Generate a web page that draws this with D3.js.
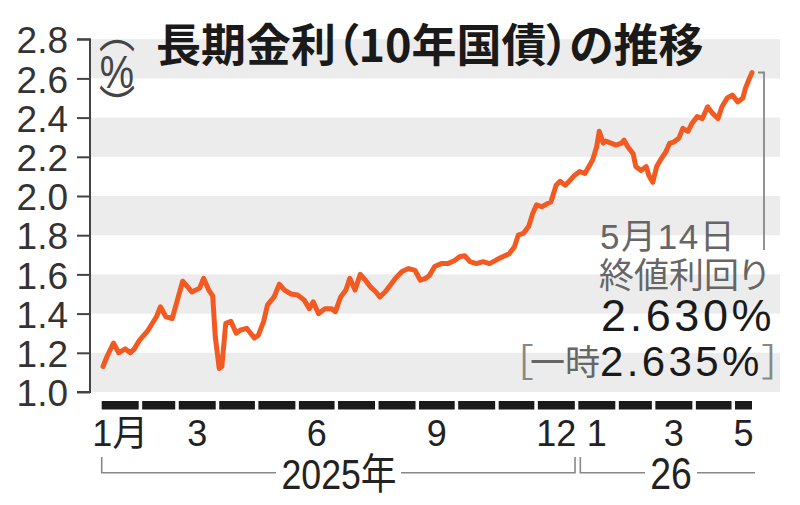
<!DOCTYPE html>
<html><head><meta charset="utf-8">
<script src="https://cdn.jsdelivr.net/npm/d3@7"></script>
<style>
body{margin:0;background:#fff}
svg{display:block}
text{font-family:"Liberation Sans","Noto Sans CJK JP",sans-serif}
.cjk{font-family:"Noto Sans CJK JP",sans-serif;font-feature-settings:"palt"}
</style>
</head><body>
<svg id="c" width="800" height="505"></svg>
<script>
// ---- data ----
const dates = ["2025-01-02","2025-01-05","2025-01-10","2025-01-14","2025-01-19","2025-01-23","2025-01-26","2025-01-30",
"2025-02-05","2025-02-12","2025-02-15","2025-02-19","2025-02-24","2025-02-28",
"2025-03-04","2025-03-08","2025-03-11","2025-03-17","2025-03-20","2025-03-24","2025-03-27","2025-03-29",
"2025-04-01","2025-04-03","2025-04-06","2025-04-10","2025-04-14","2025-04-17","2025-04-22","2025-04-28",
"2025-05-01","2025-05-05","2025-05-08","2025-05-13","2025-05-17","2025-05-21","2025-05-26","2025-05-31",
"2025-06-05","2025-06-09","2025-06-12","2025-06-16","2025-06-21","2025-06-26","2025-06-29",
"2025-07-03","2025-07-07","2025-07-10","2025-07-14","2025-07-18","2025-07-22","2025-07-26","2025-07-30",
"2025-08-02","2025-08-06","2025-08-10","2025-08-14","2025-08-19","2025-08-24","2025-08-29",
"2025-09-02","2025-09-06","2025-09-09","2025-09-13","2025-09-18","2025-09-23","2025-09-28",
"2025-10-02","2025-10-06","2025-10-10","2025-10-15","2025-10-20","2025-10-25","2025-10-30",
"2025-11-04","2025-11-09","2025-11-13","2025-11-16","2025-11-20","2025-11-24","2025-11-27","2025-11-30",
"2025-12-04","2025-12-08","2025-12-11","2025-12-15","2025-12-18","2025-12-22","2025-12-25","2025-12-29",
"2026-01-02","2026-01-06","2026-01-10","2026-01-12","2026-01-15","2026-01-17","2026-01-20","2026-01-22","2026-01-26","2026-01-30",
"2026-02-03","2026-02-05","2026-02-08","2026-02-12","2026-02-14","2026-02-18","2026-02-22","2026-02-24","2026-02-27",
"2026-03-02","2026-03-05","2026-03-09","2026-03-12","2026-03-15","2026-03-19","2026-03-22","2026-03-26","2026-03-29",
"2026-04-02","2026-04-06","2026-04-10","2026-04-14","2026-04-18","2026-04-21","2026-04-25","2026-04-29",
"2026-05-03","2026-05-07","2026-05-09","2026-05-12","2026-05-14"];
const yields = [1.13,1.18,1.25,1.20,1.22,1.20,1.22,1.265,
1.31,1.385,1.435,1.385,1.375,1.47,
1.565,1.535,1.51,1.53,1.58,1.52,1.49,1.28,
1.12,1.13,1.35,1.36,1.30,1.315,1.325,1.275,
1.29,1.36,1.445,1.485,1.55,1.52,1.50,1.495,
1.47,1.425,1.46,1.40,1.425,1.425,1.41,
1.485,1.52,1.58,1.52,1.60,1.57,1.535,1.51,
1.485,1.51,1.545,1.58,1.615,1.63,1.62,
1.57,1.58,1.595,1.64,1.655,1.655,1.67,
1.69,1.695,1.665,1.655,1.665,1.655,1.673,
1.69,1.705,1.74,1.80,1.81,1.845,1.91,1.955,
1.945,1.96,1.97,2.055,2.075,2.055,2.075,2.105,
2.125,2.115,2.16,2.185,2.25,2.33,2.27,2.28,2.27,2.26,
2.27,2.285,2.25,2.215,2.15,2.13,2.15,2.105,2.07,
2.15,2.185,2.225,2.27,2.275,2.295,2.345,2.33,2.37,
2.405,2.395,2.455,2.42,2.395,2.455,2.50,2.515,
2.48,2.50,2.55,2.60,2.63];
const yTicks = [1.0,1.2,1.4,1.6,1.8,2.0,2.2,2.4,2.6,2.8];
const yTickLabels = ["1.0","1.2","1.4","1.6","1.8","2.0","2.2","2.4","2.6","2.8"];
const bandStarts = [1.0,1.4,1.8,2.2,2.6];
const labelMonths = ["2025-01-01","2025-03-01","2025-06-01","2025-09-01","2025-12-01","2026-01-01","2026-03-01","2026-05-01"];
const monthTickLabels = ["1月","3","6","9","12","1","3","5"];
const yearLabels = ["2025年","26"];
const titleText = "長期金利（10年国債）の推移";
const unitParts = ["︵","%","︶"];
const noteDate = "5月14日";
const noteLabel = "終値利回り";
const closeValue = "2.630%";
const intradayLabel = "一時";
const intradayValue = "2.635%";

// ---- drawing ----
const parse = d3.timeParse("%Y-%m-%d");
const data = dates.map((d,i)=>({date:parse(d), v:yields[i]}));
const startDate = parse("2025-01-01"), endDate = parse("2026-05-14");
const svg = d3.select("#c");
const x = d3.scaleTime().domain([startDate,endDate]).range([101.7,752]);
const y = d3.scaleLinear().domain([1.0,2.8]).range([392,39.2]);

// bands
svg.append("g").selectAll("rect").data(bandStarts).join("rect")
  .attr("x",90).attr("width",690)
  .attr("y",d=>y(d+0.2)).attr("height",d=>y(d)-y(d+0.2))
  .attr("fill","#ececed");

// y axis
const yAxis = d3.axisLeft(y).tickValues(yTicks).tickFormat((d,i)=>yTickLabels[i]).tickSize(13).tickPadding(9);
const gy = svg.append("g").attr("transform","translate(90,0)").call(yAxis);
gy.select(".domain").attr("stroke","#444").attr("stroke-width",2).attr("d",`M-13,${y(2.8)}H0V${y(1.0)}H-13`);
gy.selectAll(".tick line").attr("stroke","#444").attr("stroke-width",2);
gy.selectAll(".tick text").attr("fill","#333").attr("font-size",37).attr("dy","0.37em")
  .style("font-family","Liberation Sans");

// title
svg.append("text").attr("class","cjk").attr("x",156).attr("y",62)
  .attr("font-size",45).attr("font-weight",700).attr("fill","#1a1a1a").text(titleText);

// unit (vertical), one text element
const u = svg.append("text").attr("transform","translate(117,0) scale(0.82,1)")
  .attr("text-anchor","middle").attr("fill","#444");
u.append("tspan").attr("class","cjk").attr("x",0).attr("y",48).attr("font-size",44).text(unitParts[0]);
u.append("tspan").attr("x",0).attr("y",88).attr("font-size",47).text(unitParts[1]);
u.append("tspan").attr("class","cjk").attr("x",0).attr("y",123).attr("font-size",44).text(unitParts[2]);

// month dashes
const months = d3.timeMonth.range(startDate, d3.timeMonth.offset(endDate,1));
svg.append("g").selectAll("rect").data(months).join("rect")
  .attr("x",d=>x(d))
  .attr("width",d=>Math.min(x(d3.timeMonth.offset(d,1)), x(endDate)+3.5) - x(d) - 3.5)
  .attr("y",401).attr("height",8.5).attr("fill","#1a1a1a");

// month labels
const mid = d=>{const a=x(d), b=Math.min(x(d3.timeMonth.offset(d,1)), x(endDate)+3.5)-3.5; return (a+b)/2;};
svg.append("g").selectAll("text").data(labelMonths).join("text")
  .attr("x",d=>mid(parse(d))).attr("y",446).attr("text-anchor","middle")
  .attr("font-size",36).attr("fill","#222").text((d,i)=>monthTickLabels[i]);

// year brackets
const yb = 472.7;
const x25a = x(startDate), x25b = x(parse("2025-12-31"))-2, x26a = x(parse("2026-01-01"))+2, x26b = x(endDate)+3;
const br = svg.append("g").attr("fill","none").attr("stroke","#888").attr("stroke-width",1.6);
br.append("path").attr("d",`M${x25a},457V${yb}H276`);
br.append("path").attr("d",`M401,${yb}H${x25b}V457`);
br.append("path").attr("d",`M${x26a},457V${yb}H645`);
br.append("path").attr("d",`M697,${yb}H${x26b}`);
svg.append("text").attr("transform","translate(339,489) scale(0.85,1)").attr("text-anchor","middle")
  .attr("font-size",42).attr("fill","#222").text(yearLabels[0]);
svg.append("text").attr("transform","translate(671,489) scale(0.85,1)").attr("text-anchor","middle")
  .attr("font-size",44).attr("fill","#222").text(yearLabels[1]);

// line
svg.append("path").datum(data)
  .attr("fill","none").attr("stroke","#f25a22").attr("stroke-width",5)
  .attr("stroke-linejoin","round").attr("stroke-linecap","round")
  .attr("d",d3.line().x(d=>x(d.date)).y(d=>y(d.v)));

// leader
const last = data[data.length-1];
svg.append("path").attr("fill","none").attr("stroke","#888").attr("stroke-width",1.8)
  .attr("d",`M758,${y(last.v)}H764V250`);

// annotation (one text element)
const a = svg.append("text");
a.append("tspan").attr("x",600).attr("y",249).attr("font-size",35).attr("fill","#666")
  .attr("letter-spacing",1.6).text(noteDate);
a.append("tspan").attr("class","cjk").attr("x",599).attr("y",288).attr("font-size",35).attr("fill","#666").text(noteLabel);
a.append("tspan").attr("x",601).attr("y",331).attr("font-size",45).attr("fill","#1a1a1a")
  .attr("letter-spacing",3.6).text(closeValue);
a.append("tspan").attr("class","cjk").attr("x",514).attr("y",376).attr("font-size",38).attr("fill","#888").text("［");
a.append("tspan").attr("class","cjk").attr("x",530).attr("y",375).attr("font-size",35).attr("fill","#666").text(intradayLabel);
a.append("tspan").attr("x",600).attr("y",376).attr("font-size",42).attr("fill","#1a1a1a")
  .attr("letter-spacing",3.4).text(intradayValue);
a.append("tspan").attr("class","cjk").attr("x",762).attr("y",376).attr("font-size",38).attr("fill","#888").text("］");
</script>
</body></html>
